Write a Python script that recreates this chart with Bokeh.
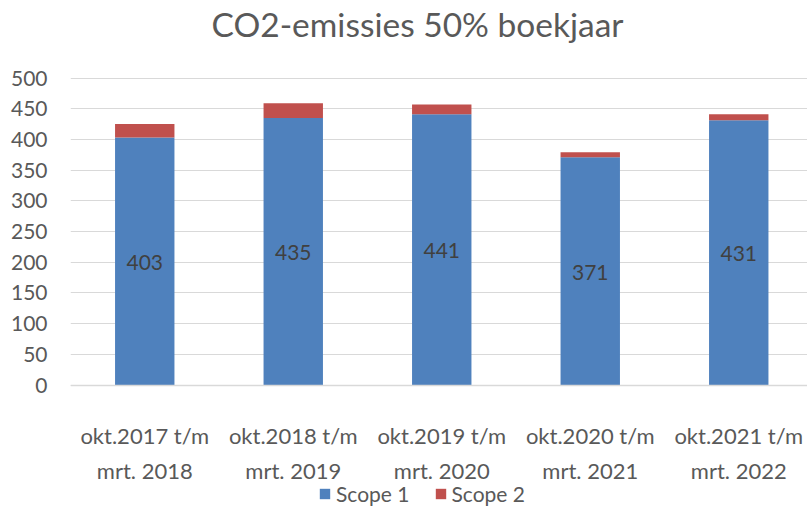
from bokeh.plotting import figure
from bokeh.models import (Range1d, LinearAxis, FixedTicker, ColumnDataSource, LabelSet,
                          Label, Legend, LegendItem)
from bokeh.core.properties import value
from bokeh.embed import file_html
from bokeh.resources import INLINE

title_text = "CO2-emissies 50% boekjaar"
periods_line1 = ["okt.2017 t/m", "okt.2018 t/m", "okt.2019 t/m", "okt.2020 t/m", "okt.2021 t/m"]
periods_line2 = ["mrt. 2018", "mrt. 2019", "mrt. 2020", "mrt. 2021", "mrt. 2022"]
scope1 = [403, 435, 441, 371, 431]
scope2 = [22, 24, 16, 8, 10]
y_ticks = [0, 50, 100, 150, 200, 250, 300, 350, 400, 450, 500]

FONT = "Lato"
GREY = "#595959"
BLUE = "#4F81BD"
RED = "#C0504D"

xs = list(range(len(scope1)))
tops = [a + b for a, b in zip(scope1, scope2)]
src = ColumnDataSource(dict(
    x=xs, s1=scope1, s2=scope2, top=tops,
    mid=[v / 2 for v in scope1], lab=[str(v) for v in scope1],
))

# layout geometry (pixels)
W, H = 807, 508
left = 70
y500_px, y0_px = 77.5, 384.5
px_per_unit = (y0_px - y500_px) / 500.0
cat_px = 148.5
frame_w = W - left

y_start = -(H - y0_px) / px_per_unit
y_end = 500 + y500_px / px_per_unit

p = figure(width=W, height=H, output_backend="svg", toolbar_location=None,
           x_range=Range1d(-0.5, -0.5 + frame_w / cat_px), y_range=Range1d(y_start, y_end),
           x_axis_location=None, y_axis_location=None,
           min_border_left=left, min_border_right=0, min_border_top=0,
           min_border_bottom=0, outline_line_color=None)
p.background_fill_color = "white"
p.border_fill_color = "white"

p.ygrid.ticker = FixedTicker(ticks=y_ticks)
p.ygrid.grid_line_color = "#D9D9D9"
p.ygrid.grid_line_width = 1
p.xgrid.grid_line_color = None

r1 = p.vbar(x="x", bottom=0, top="s1", width=0.4, source=src, fill_color=BLUE, line_color=None)
r2 = p.vbar(x="x", bottom="s1", top="top", width=0.4, source=src, fill_color=RED, line_color=None)

labels = LabelSet(x="x", y="mid", text="lab", source=src, text_align="center",
                  text_baseline="middle", text_font=value(FONT), text_font_size=value("21px"),
                  text_color="#404040", y_offset=-1)
p.add_layout(labels)

# y axis
yax = LinearAxis(ticker=FixedTicker(ticks=y_ticks))
yax.axis_line_color = None
yax.major_tick_line_color = None
yax.minor_tick_line_color = None
yax.major_tick_out = 0
yax.major_tick_in = 0
yax.major_label_standoff = 23
yax.major_label_text_font = FONT
yax.major_label_text_font_size = "21px"
yax.major_label_text_color = GREY
p.add_layout(yax, "left")

# x axis, two label lines, anchored at y = 0
xax1 = LinearAxis(ticker=FixedTicker(ticks=xs), fixed_location=0,
                  major_label_overrides={i: t for i, t in zip(xs, periods_line1)})
xax1.axis_line_color = "#D9D9D9"
xax1.axis_line_width = 1.5
xax1.major_tick_line_color = None
xax1.minor_tick_line_color = None
xax1.major_tick_out = 0
xax1.major_tick_in = 0
xax1.major_label_standoff = 37
xax1.major_label_text_font = FONT
xax1.major_label_text_font_size = "22px"
xax1.major_label_text_color = GREY
p.add_layout(xax1, "below")

xax2 = LinearAxis(ticker=FixedTicker(ticks=xs), fixed_location=0,
                  major_label_overrides={i: t for i, t in zip(xs, periods_line2)})
xax2.axis_line_color = None
xax2.major_tick_line_color = None
xax2.minor_tick_line_color = None
xax2.major_tick_out = 0
xax2.major_tick_in = 0
xax2.major_label_standoff = 72
xax2.major_label_text_font = FONT
xax2.major_label_text_font_size = "22px"
xax2.major_label_text_color = GREY
p.add_layout(xax2, "below")

legend = Legend(items=[LegendItem(label="Scope 1", renderers=[r1]),
                       LegendItem(label="Scope 2", renderers=[r2])],
                orientation="horizontal", location=(248, 2))
legend.label_text_font = FONT
legend.label_text_font_size = "21px"
legend.label_text_color = GREY
legend.glyph_width = 13
legend.glyph_height = 13
legend.label_standoff = 5
legend.spacing = 24
legend.padding = 0
legend.margin = 0
legend.border_line_color = None
legend.background_fill_alpha = 0
p.add_layout(legend, "center")

title = Label(x=347, y=H - 23, x_units="screen", y_units="screen", text=title_text,
              text_align="center", text_baseline="alphabetic", text_font=FONT,
              text_font_size="33.5px", text_color=GREY)
p.add_layout(title)

open("out.html", "w").write(file_html(p, INLINE))
